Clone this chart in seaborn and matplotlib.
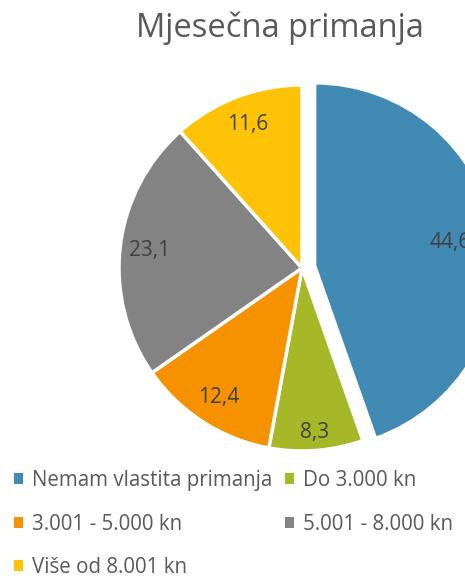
import numpy as np
import seaborn as sns
import matplotlib.pyplot as plt
from matplotlib.patches import Patch

sns.set_theme(style="white")
plt.rcParams['font.family'] = ['Open Sans', 'DejaVu Sans']

# data
categories = ['Nemam vlastita primanja', 'Do 3.000 kn', '3.001 - 5.000 kn',
              '5.001 - 8.000 kn', 'Više od 8.001 kn']
values = [44.6, 8.3, 12.4, 23.1, 11.6]
colors = sns.color_palette(['#418AB3', '#A6B727', '#F69200', '#838383', '#FEC306'])

W, H = 465, 579
fig = plt.figure(figsize=(W / 100, H / 100), dpi=100)

# pie geometry (pixels)
cx, cy, R = 302, 268, 183
half = R * 1.1
ax = fig.add_axes([(cx - half) / W, (H - cy - half) / H, 2 * half / W, 2 * half / H])

explode = [0.07, 0, 0, 0, 0]
wedges, texts, autotexts = ax.pie(
    values, colors=colors, explode=explode, startangle=90, counterclock=False,
    autopct=lambda p: f"{p * sum(values) / 100:.1f}".replace('.', ','),
    pctdistance=0.84, wedgeprops=dict(edgecolor='white', linewidth=2.5),
    textprops=dict(color='#404040', fontsize=15))
# first label sits a bit closer to the centre, the small green one further out
x0, y0 = autotexts[0].get_position()
autotexts[0].set_position((x0 * 0.82 / 0.91, y0 * 0.82 / 0.91))
x1, y1 = autotexts[1].get_position()
autotexts[1].set_position((x1 * 0.9 / 0.84, y1 * 0.9 / 0.84))

ax.set_xlim(-1.1, 1.1)
ax.set_ylim(-1.1, 1.1)
ax.set_aspect('equal')
ax.axis('off')

fig.text(280 / W, 1 - 28 / H, 'Mjesečna primanja', ha='center', va='center',
         fontsize=23.5, color='#595959')

# legend, row-major order like the original
order = [0, 2, 4, 1, 3]
handles = [Patch(facecolor=colors[i], edgecolor='none') for i in order]
labels = [categories[i] for i in order]
fig.legend(handles, labels, loc='upper left', bbox_to_anchor=(14 / W, 1 - 470 / H),
           ncol=2, frameon=False, fontsize=14.8, labelcolor='#595959',
           handlelength=0.43, handleheight=0.43, handletextpad=0.45,
           columnspacing=0.6, labelspacing=1.1, borderaxespad=0, borderpad=0)

fig.savefig('out.png', dpi=100)
